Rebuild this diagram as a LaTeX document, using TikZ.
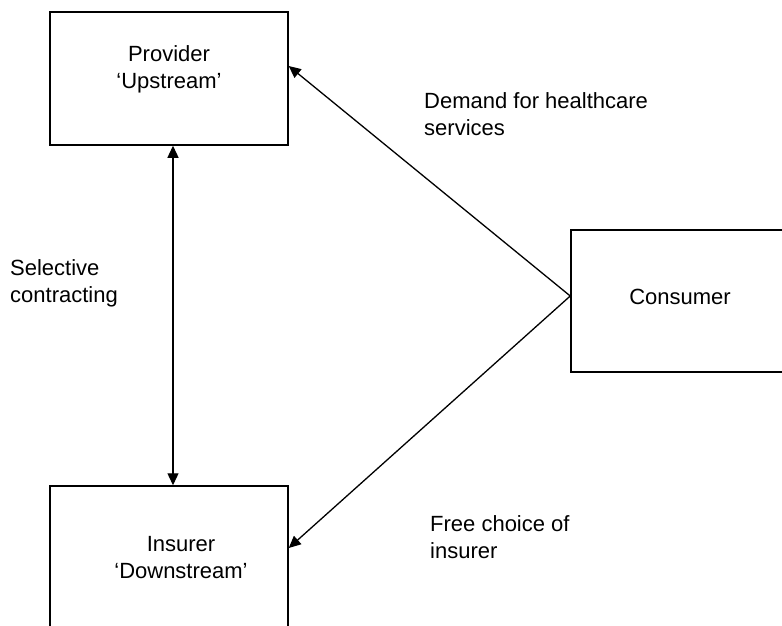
\documentclass[tikz,border=0pt]{standalone}
\usepackage{fontspec}
\setmainfont{Liberation Sans}
\usetikzlibrary{arrows.meta}
\begin{document}
\begin{tikzpicture}[x=1pt,y=-1pt,
  every node/.style={font=\fontsize{22}{27}\selectfont},
  box/.style={draw,line width=1.5pt,inner sep=0pt},
  lbl/.style={inner sep=0pt,align=left,anchor=west},
  ctr/.style={inner sep=0pt,align=center},
  arr/.style={line width=1.3pt,-{Triangle[length=12pt,width=11pt]}},
  darr/.style={line width=1.3pt,{Triangle[length=12pt,width=11pt]}-{Triangle[length=12pt,width=11pt]}}]
\useasboundingbox (0,0) rectangle (782,626);
\clip (0,0) rectangle (782,626);
\fill[white] (0,0) rectangle (782,626);
% boxes
\node[box,minimum width=238pt,minimum height=133pt] (prov) at (169,78.5) {};
\node[box,minimum width=238pt,minimum height=214pt] (ins) at (169,593) {};
\node[box,minimum width=259pt,minimum height=142pt] (cons) at (700.5,301) {};
% box texts
\node[ctr] (provt) at (169,69.5) {Provider\\‘Upstream’};
\node[ctr] (inst) at (181,557.5) {Insurer\\‘Downstream’};
\node[ctr] (const) at (680,297) {Consumer};
% labels
\node[lbl] (dem) at (424,114) {Demand for healthcare\\services};
\node[lbl] (sel) at (10,283.5) {Selective\\contracting};
\node[lbl] (free) at (430,537) {Free choice of\\insurer};
% helper coordinates
\coordinate (vx) at (173,0);
\coordinate (apex) at (0,296);
\coordinate (py) at (0,66);
\coordinate (iy) at (0,548);
% connectors
\draw[darr] (prov.south -| vx) -- (ins.north -| vx);
\draw[arr] (cons.west |- apex) -- (prov.east |- py);
\draw[arr] (cons.west |- apex) -- (ins.east |- iy);
\end{tikzpicture}
\end{document}
